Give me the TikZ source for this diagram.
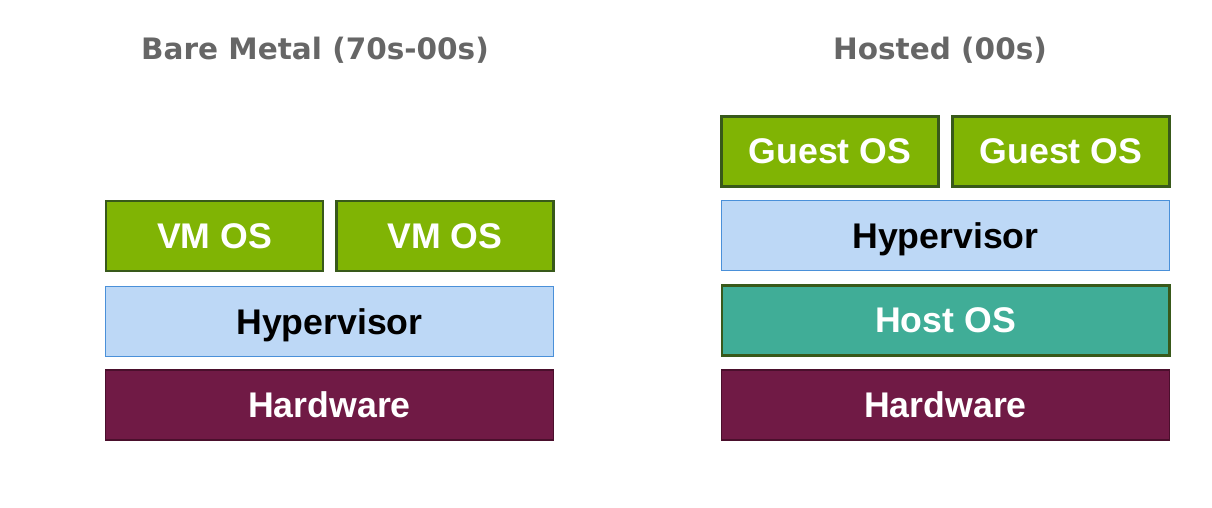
\documentclass[tikz,border=0pt]{standalone}
\usepackage{fontspec}
\setmainfont{Liberation Sans}
\newfontfamily\titlefont{DejaVu Sans}

\definecolor{osgreen}{HTML}{80B404}
\definecolor{osgreenline}{HTML}{38591A}
\definecolor{hypblue}{HTML}{BDD8F6}
\definecolor{hypline}{HTML}{4A90D9}
\definecolor{hwred}{HTML}{701A45}
\definecolor{hwline}{HTML}{4A0F2C}
\definecolor{hostteal}{HTML}{40AD97}
\definecolor{titlegray}{HTML}{666666}

\tikzset{
    layer/.style={rectangle, inner sep=0pt, outer sep=0pt,
        minimum height=1.4cm, text=white, text depth=0pt,
        font=\fontsize{20.3}{24}\selectfont\bfseries},
    small/.style={minimum width=4.34cm},
    wide/.style={minimum width=8.96cm},
    guest/.style={layer, small, fill=osgreen, draw=osgreenline, line width=1.2pt},
    hyper/.style={layer, wide, fill=hypblue, draw=hypline, line width=0.5pt, text=black},
    hostos/.style={layer, wide, fill=hostteal, draw=osgreenline, line width=1.2pt},
    hardware/.style={layer, wide, fill=hwred, draw=hwline, line width=0.9pt},
    heading/.style={text=titlegray, text depth=0pt, font=\titlefont\fontsize{16.8}{20}\selectfont\bfseries}
}

\begin{document}
\begin{tikzpicture}[x=0.02cm, y=-0.02cm]
    \useasboundingbox (0,0) rectangle (1212,507);

    % bare metal
    \node[heading] (bmtitle) at (315,48) {Bare Metal (70s-00s)};
    \node[guest] (vmA) at (214.5,236) {VM OS};
    \node[guest] (vmB) at (445,236) {VM OS};
    \node[hyper] (bmhyp) at (329.5,321.5) {Hypervisor};
    \node[hardware] (bmhw) at (329.5,405) {Hardware};

    % hosted
    \node[heading] (hosttitle) at (940,48) {Hosted (00s)};
    \node[guest] (guestA) at (830,151.5) {Guest OS};
    \node[guest] (guestB) at (1061,151.5) {Guest OS};
    \node[hyper] (hhyp) at (945.5,235.5) {Hypervisor};
    \node[hostos] (hostos) at (945.5,320.5) {Host OS};
    \node[hardware] (hhw) at (945.5,405) {Hardware};
\end{tikzpicture}
\end{document}
